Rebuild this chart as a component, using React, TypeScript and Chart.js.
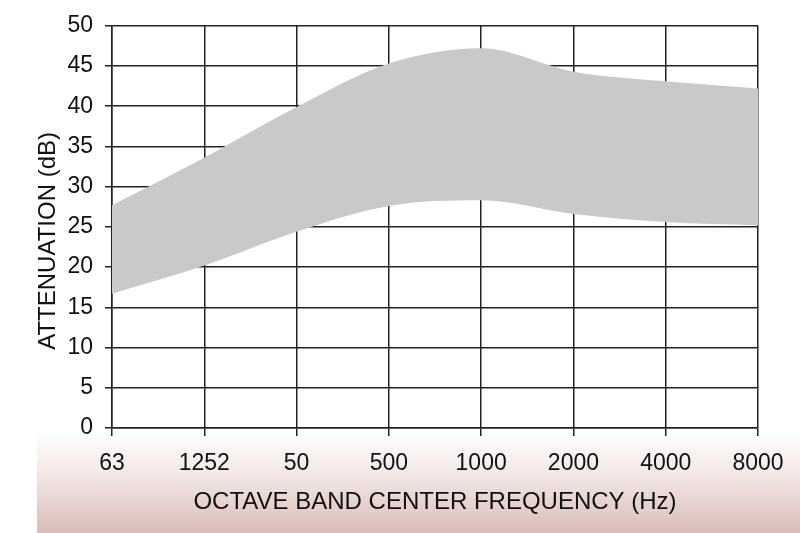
import React, { useEffect, useRef } from "react";
import { Chart, registerables } from "chart.js";

Chart.register(...registerables);

const categories = ["63", "1252", "50", "500", "1000", "2000", "4000", "8000"];
const upperValues = [27.7, 33.6, 39.9, 45.3, 47.2, 44.3, 43.1, 42.2];
const lowerValues = [16.7, 20.2, 24.4, 27.6, 28.3, 26.6, 25.6, 25.2];
const yTitle = "ATTENUATION (dB)";
const xTitle = "OCTAVE BAND CENTER FREQUENCY (Hz)";

const FONT = "'Liberation Sans', Arial, Helvetica, sans-serif";

const yTitlePlugin = {
  id: "yTitleText",
  afterDraw(chart: any) {
    const ctx = chart.ctx;
    const area = chart.chartArea;
    ctx.save();
    ctx.font = `24px ${FONT}`;
    ctx.fillStyle = "#111";
    ctx.textAlign = "center";
    ctx.textBaseline = "middle";
    ctx.translate(48, (area.top + area.bottom) / 2 + 14);
    ctx.rotate(-Math.PI / 2);
    ctx.fillText(yTitle, 0, 0);
    ctx.restore();
  },
};

export default function App() {
  const ref = useRef<HTMLCanvasElement | null>(null);

  useEffect(() => {
    document.body.style.margin = "0";
    const canvas = ref.current;
    if (!canvas) return;
    const chart = new Chart(canvas, {
      type: "line",
      data: {
        labels: categories,
        datasets: [
          {
            label: "upper",
            data: upperValues,
            borderWidth: 0,
            borderColor: "rgba(0,0,0,0)",
            backgroundColor: "#c8c9cb",
            pointRadius: 0,
            fill: "+1",
            cubicInterpolationMode: "monotone",
          },
          {
            label: "lower",
            data: lowerValues,
            borderWidth: 0,
            borderColor: "rgba(0,0,0,0)",
            pointRadius: 0,
            fill: false,
            cubicInterpolationMode: "monotone",
          },
        ],
      },
      plugins: [yTitlePlugin],
      options: {
        animation: false,
        responsive: false,
        maintainAspectRatio: false,
        layout: { padding: { top: 22, right: 42, left: 0, bottom: 0 } },
        plugins: {
          legend: { display: false },
          tooltip: { enabled: false },
        },
        scales: {
          x: {
            z: 1,
            offset: false,
            grid: {
              offset: false,
              color: "#222",
              lineWidth: 1.5,
              tickLength: 8,
              drawTicks: true,
            },
            border: { color: "#222", width: 1.5 },
            ticks: {
              color: "#111",
              font: { family: FONT, size: 23 },
              padding: 14,
              maxRotation: 0,
              autoSkip: false,
            },
            title: {
              display: true,
              text: xTitle,
              color: "#111",
              font: { family: FONT, size: 24 },
              padding: { top: 0, bottom: 16 },
            },
            afterFit: (scale: any) => {
              scale.height = 105;
            },
          },
          y: {
            z: 1,
            min: 0,
            max: 50,
            ticks: {
              stepSize: 5,
              color: "#111",
              font: { family: FONT, size: 23 },
              padding: 12,
            },
            grid: {
              color: "#222",
              lineWidth: 1.5,
              tickLength: 7,
            },
            border: { color: "#222", width: 1.5 },
            title: { display: false },
            afterFit: (scale: any) => {
              scale.width = 112;
            },
          },
        },
      },
    });
    return () => chart.destroy();
  }, []);

  return (
    <div style={{ position: "relative", width: 800, height: 533, background: "#fff" }}>
      <div
        style={{
          position: "absolute",
          left: 37,
          top: 430,
          width: 763,
          height: 103,
          background: "linear-gradient(to bottom, rgba(255,255,255,1) 0%, rgb(242,230,228) 45%, rgb(218,188,184) 100%)",
        }}
      />
      <canvas ref={ref} width={800} height={533} style={{ position: "absolute", left: 0, top: 0 }} />
    </div>
  );
}
